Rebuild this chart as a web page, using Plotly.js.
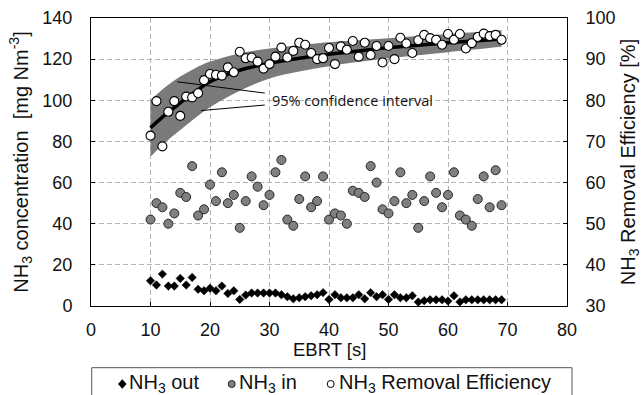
<!DOCTYPE html>
<html>
<head>
<meta charset="utf-8">
<script src="https://cdn.plot.ly/plotly-3.0.1.min.js"></script>
<style>html,body{margin:0;padding:0;background:#fff;}#chart{width:644px;height:395px;}</style>
</head>
<body>
<div id="chart"></div>
<script>
// EBRT [s]
var ebrt = [10,11,12,13,14,15,16,17,18,19,20,21,22,23,24,25,26,27,28,29,30,31,32,33,34,35,36,37,38,39,40,41,42,43,44,45,46,47,48,49,50,51,52,53,54,55,56,57,58,59,60,61,62,63,64,65,66,67,68,69];
// NH3 inlet concentration [mg Nm-3]
var nh3In = [42,50,48,40,45,55,53,68,44,47,59,51,65,50,54,38,51,63,58,49,54,65,71,42,39,52,63,48,51,63,42,45,44,40,56,55,53,68,60,47,45,51,65,50,54,38,51,63,55,48,54,65,44,42,39,52,63,48,66,49];
// NH3 outlet concentration [mg Nm-3]
var nh3Out = [12.3,10.2,15.5,9.7,9.7,13.4,10.2,13.9,8.1,7.4,8.6,7.4,9.7,6.1,7.4,3.2,5.3,6.3,6.3,6.3,6.3,6.3,5.5,4.5,3.5,4.0,4.5,5.0,5.5,6.5,3.2,5.5,4.0,4.0,4.0,5.5,3.5,6.5,4.5,5.5,3.2,5.5,4.0,4.0,5.0,1.9,2.6,3.0,3.0,3.0,2.4,5.0,2.0,3.0,3.0,3.0,3.0,3.0,3.0,3.0];
// NH3 removal efficiency [%]
var removalEff = [71.4,79.8,68.8,77.2,79.8,76.2,80.9,80.7,81.7,84.9,86.4,86.2,86.0,88.0,86.8,91.8,90.2,90.4,89.4,87.7,88.8,90.6,92.8,90.4,92.0,94.0,93.5,91.5,90.0,90.2,92.7,88.8,93.1,92.3,94.4,90.6,94.0,91.0,93.2,89.2,93.2,90.0,95.2,93.8,91.5,94.6,95.9,95.1,94.7,93.5,96.1,94.7,96.1,92.6,93.9,95.4,96.2,95.6,95.9,94.7];
// fitted curve
var fitX = [10,12,14,16,18,20,25,30,35,40,45,50,55,60,65,69];
var fitY = [73.3,75.9,78.2,80.5,82.6,84.5,87.3,89.0,90.2,91.2,92.0,92.8,93.4,94.0,94.5,94.9];
// 95% confidence band
var bandX = [10,12.5,15,17.5,20,25,30,35,40,50,60,69];
var bandUpper = [80.0,83.2,85.8,87.8,89.4,91.4,92.6,93.4,94.1,95.1,96.1,97.0];
var bandLower = [66.3,69.8,72.8,75.7,78.3,82.3,85.3,87.0,88.3,90.2,91.7,93.0];
// axis ticks
var xTicks = [0,10,20,30,40,50,60,70,80];
var yTicks = [0,20,40,60,80,100,120,140];
var y2Ticks = [30,40,50,60,70,80,90,100];

var FONT = 'Liberation Sans, Arial, sans-serif';
var ML = 91, MR = 77, MT = 18, MB = 89, W = 644, H = 395;
var PW = W - ML - MR, PH = H - MT - MB;
function px(p){ return (p - ML) / PW; }
function py(p){ return (H - MB - p) / PH; }

var traces = [
  {x: bandX, y: bandLower, yaxis: 'y2', mode: 'lines', line: {width: 0, shape: 'spline', color: '#7a7a7a'}, hoverinfo: 'skip', showlegend: false},
  {x: bandX, y: bandUpper, yaxis: 'y2', mode: 'lines', fill: 'tonexty', fillcolor: '#7a7a7a', line: {width: 0, shape: 'spline', color: '#7a7a7a'}, hoverinfo: 'skip', showlegend: false},
  {x: fitX, y: fitY, yaxis: 'y2', mode: 'lines', line: {color: '#000', width: 3.5, shape: 'spline'}, showlegend: false},
  {x: ebrt, y: nh3In, yaxis: 'y', mode: 'markers', name: 'NH3 in', marker: {symbol: 'circle', size: 9, color: '#808080', line: {color: '#262626', width: 1}}, showlegend: false},
  {x: ebrt, y: nh3Out, yaxis: 'y', mode: 'markers', name: 'NH3 out', marker: {symbol: 'diamond', size: 6.5, color: '#000', line: {color: '#000', width: 0.5}}, showlegend: false},
  {x: ebrt, y: removalEff, yaxis: 'y2', mode: 'markers', name: 'NH3 Removal Efficiency', marker: {symbol: 'circle', size: 9, color: '#fff', line: {color: '#000', width: 1.1}}, showlegend: false}
];

var gridStyle = {gridcolor: '#b3b3b3', griddash: '5px,3px', gridwidth: 1};

var shapes = [
  // pointer lines to the confidence band
  {type: 'line', xref: 'x', yref: 'y', x0: 14.5, y0: 109.0, x1: 29.2, y1: 103.5, line: {color: '#000', width: 1}},
  {type: 'line', xref: 'x', yref: 'y', x0: 18.5, y0: 95.0, x1: 29.2, y1: 97.7, line: {color: '#000', width: 1}},
  // legend frame
  {type: 'rect', xref: 'paper', yref: 'paper', x0: px(91.7), x1: px(572), y0: py(367.7), y1: py(402), line: {color: '#555', width: 1}, fillcolor: 'rgba(0,0,0,0)'},
  // legend symbols
  {type: 'path', xref: 'paper', yref: 'paper', path: 'M ' + px(118.3) + ' ' + py(384) + ' L ' + px(122.3) + ' ' + py(379.5) + ' L ' + px(126.3) + ' ' + py(384) + ' L ' + px(122.3) + ' ' + py(388.5) + ' Z', fillcolor: '#000', line: {color: '#000', width: 0.5}},
  {type: 'circle', xref: 'paper', yref: 'paper', x0: px(228.2), x1: px(235.2), y0: py(380.5), y1: py(387.5), fillcolor: '#808080', line: {color: '#262626', width: 1}},
  {type: 'circle', xref: 'paper', yref: 'paper', x0: px(327.2), x1: px(334.2), y0: py(380.5), y1: py(387.5), fillcolor: '#fff', line: {color: '#000', width: 1}}
];

var legFont = {family: FONT, size: 20, color: '#111'};
var annotations = [
  {xref: 'x', yref: 'y', x: 30.05, y: 100.1, xanchor: 'left', yanchor: 'middle', showarrow: false, text: '95% confidence interval', font: {family: 'Open Sans, sans-serif', size: 14.5, color: '#111'}},
  {xref: 'paper', yref: 'paper', x: 0.5, y: py(349.5), xanchor: 'center', yanchor: 'middle', showarrow: false, text: 'EBRT [s]', font: {family: FONT, size: 18.5, color: '#111'}},
  {xref: 'paper', yref: 'paper', x: px(127), y: py(383), xanchor: 'left', yanchor: 'middle', showarrow: false, text: 'NH<sub>3</sub> out', font: legFont},
  {xref: 'paper', yref: 'paper', x: px(237), y: py(383), xanchor: 'left', yanchor: 'middle', showarrow: false, text: 'NH<sub>3</sub> in', font: legFont},
  {xref: 'paper', yref: 'paper', x: px(337), y: py(383), xanchor: 'left', yanchor: 'middle', showarrow: false, text: 'NH<sub>3</sub> Removal Efficiency', font: legFont}
];

var tickFont = {family: FONT, size: 18, color: '#111'};
var titleFont = {family: FONT, size: 20, color: '#111'};

var layout = {
  width: W, height: H,
  margin: {l: ML, r: MR, t: MT, b: MB, pad: 0},
  paper_bgcolor: '#fff', plot_bgcolor: '#fff',
  showlegend: false,
  xaxis: Object.assign({
    range: [0, 80], tickvals: xTicks, ticktext: xTicks.map(String),
    showline: true, linecolor: '#000', linewidth: 1, mirror: true,
    ticks: 'inside', ticklen: 4, tickcolor: '#000', tickfont: tickFont,
    ticklabelstandoff: 7,
    zeroline: false, showgrid: true
  }, gridStyle),
  yaxis: Object.assign({
    range: [0, 140], tickvals: yTicks, ticktext: yTicks.map(String),
    showline: true, linecolor: '#000', linewidth: 1,
    ticks: 'inside', ticklen: 4, tickcolor: '#000', tickfont: tickFont,
    ticklabelstandoff: 14,
    zeroline: false, showgrid: true,
    title: {text: 'NH<sub>3</sub> concentration\u00a0 [mg Nm<sup>-3</sup>]', font: titleFont, standoff: 8}
  }, gridStyle),
  yaxis2: {
    range: [30, 100], tickvals: y2Ticks, ticktext: y2Ticks.map(String),
    overlaying: 'y', side: 'right',
    showline: true, linecolor: '#000', linewidth: 1,
    ticks: 'inside', ticklen: 4, tickcolor: '#000', tickfont: tickFont,
    ticklabelstandoff: 14,
    zeroline: false, showgrid: false,
    title: {text: 'NH<sub>3</sub> Removal Efficiency [%]', font: titleFont, standoff: 6}
  },
  shapes: shapes,
  annotations: annotations
};

Plotly.newPlot('chart', traces, layout, {staticPlot: true, displayModeBar: false});
</script>
</body>
</html>
